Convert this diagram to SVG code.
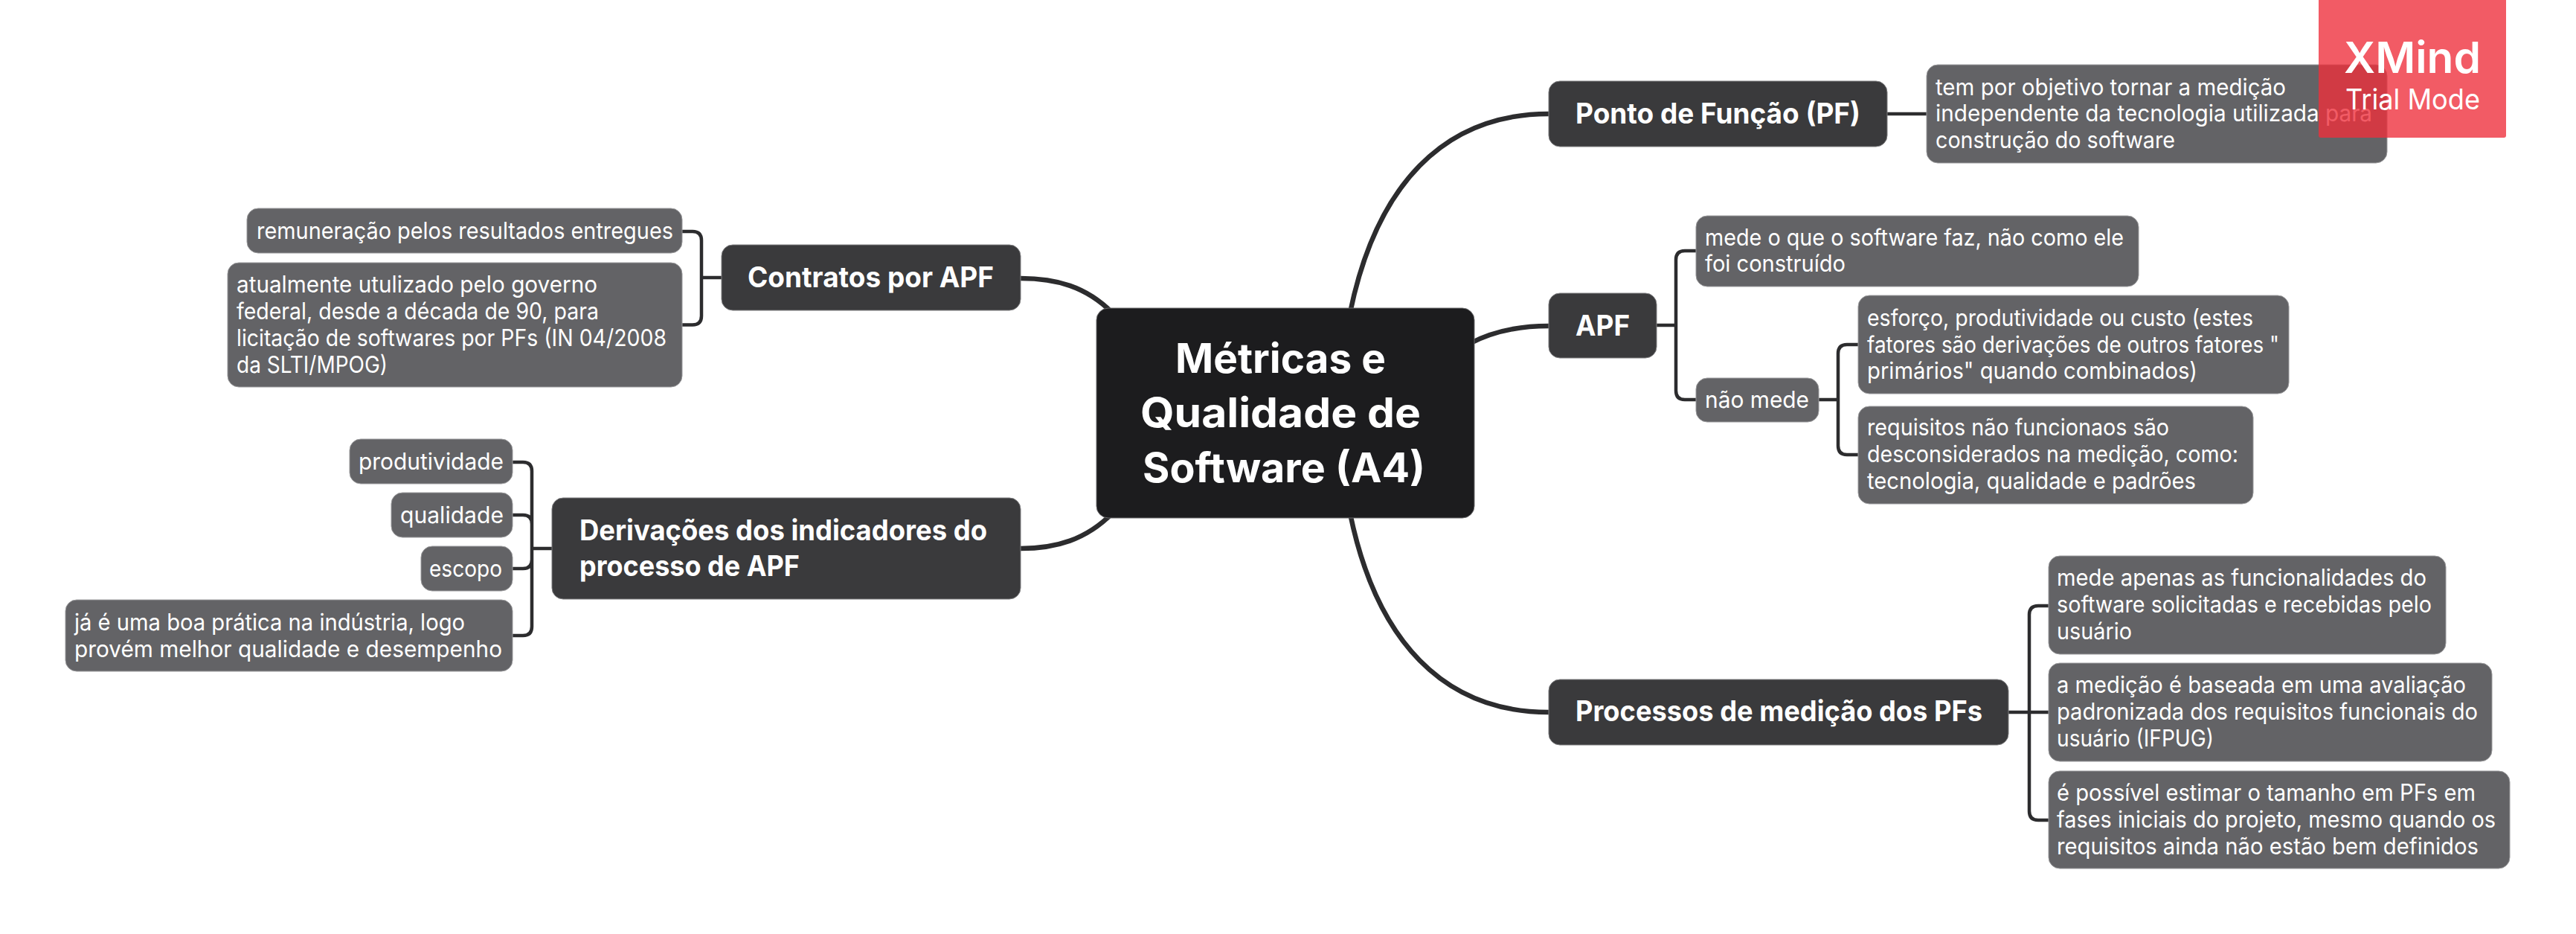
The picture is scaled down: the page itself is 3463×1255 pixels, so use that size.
<svg xmlns="http://www.w3.org/2000/svg" width="3463" height="1255" viewBox="0 0 3463 1255">
<style>
text{font-family:"Inter","Noto Sans","Liberation Sans",sans-serif;fill:#fff;}
.s{font-size:31px;font-weight:400;}
.t{font-size:38px;font-weight:700;}
.m{font-size:55px;font-weight:700;}
.rs{fill:#636366;stroke:#9a9a9c;stroke-width:1;}
.rt{fill:#3a3a3c;stroke:#7d7d7f;stroke-width:1;}
.rm{fill:#1c1c1e;stroke:#6a6a6c;stroke-width:1;}
.c1{fill:none;stroke:#2c2c2e;stroke-width:6.500;}
.c2{fill:none;stroke:#2c2c2e;stroke-width:4.500;}
</style>
<rect width="3463" height="1255" fill="#fff"/>
<g id="connectors">
<path class="c1" d="M1815,420C1850,250 1940,153 2082,153"/>
<path class="c1" d="M1815,690C1850,860 1940,957 2082,957"/>
<path class="c1" d="M1975,462Q2020,438 2082,438"/>
<path class="c1" d="M1372,374C1420,374 1460,385 1495,420"/>
<path class="c1" d="M1372,737C1420,737 1460,725 1495,690"/>
<path class="c2" d="M2537,153H2590"/>
<path class="c2" d="M2227,437H2253M2280,337H2265Q2253,337 2253,349V525Q2253,537 2265,537H2280"/>
<path class="c2" d="M2445,537H2471M2498,463H2483Q2471,463 2471,475V599Q2471,611 2483,611H2498"/>
<path class="c2" d="M2700,957H2754M2754,814H2740Q2728,814 2728,826V1090Q2728,1102 2740,1102H2754"/>
<path class="c2" d="M970,373H943M917,311H931Q943,311 943,323V424.500Q943,436.500 931,436.500H917"/>
<path class="c2" d="M742,737H715M689,621H703Q715,621 715,633V842Q715,854 703,854H689M689,692H703Q715,692 715,704M689,764H703Q715,764 715,752"/>
</g>
<g id="center"><rect class="rm" x="1474" y="414" width="508" height="282" rx="16"/>
<text class="m" x="1580" y="501" textLength="283" lengthAdjust="spacingAndGlyphs">Métricas e</text>
<text class="m" x="1533" y="574" textLength="377" lengthAdjust="spacingAndGlyphs">Qualidade de</text>
<text class="m" x="1536" y="648" textLength="380" lengthAdjust="spacingAndGlyphs">Software (A4)</text></g>
<g id="pf"><rect class="rt" x="2082" y="109" width="455" height="88" rx="15"/>
<text class="t" x="2118" y="166" textLength="383" lengthAdjust="spacingAndGlyphs">Ponto de Função (PF)</text></g>
<g id="pf-desc"><rect class="rs" x="2590" y="87" width="619" height="132" rx="15"/>
<text class="s" x="2602" y="128" textLength="471" lengthAdjust="spacingAndGlyphs">tem por objetivo tornar a medição</text>
<text class="s" x="2602" y="163" textLength="587" lengthAdjust="spacingAndGlyphs">independente da tecnologia utilizada para</text>
<text class="s" x="2602" y="199" textLength="322" lengthAdjust="spacingAndGlyphs">construção do software</text></g>
<g id="apf"><rect class="rt" x="2082" y="394" width="145" height="87" rx="15"/>
<text class="t" x="2118" y="451" textLength="73" lengthAdjust="spacingAndGlyphs">APF</text></g>
<g id="apf-mede"><rect class="rs" x="2280" y="290" width="595" height="95" rx="15"/>
<text class="s" x="2292" y="330" textLength="563" lengthAdjust="spacingAndGlyphs">mede o que o software faz, não como ele</text>
<text class="s" x="2292" y="365" textLength="189" lengthAdjust="spacingAndGlyphs">foi construído</text></g>
<g id="nao-mede"><rect class="rs" x="2280" y="508" width="165" height="59" rx="15"/>
<text class="s" x="2292" y="548" textLength="140" lengthAdjust="spacingAndGlyphs">não mede</text></g>
<g id="esforco"><rect class="rs" x="2498" y="397" width="579" height="132" rx="15"/>
<text class="s" x="2510" y="438" textLength="519" lengthAdjust="spacingAndGlyphs">esforço, produtividade ou custo (estes</text>
<text class="s" x="2510" y="474" textLength="554" lengthAdjust="spacingAndGlyphs">fatores são derivações de outros fatores "</text>
<text class="s" x="2510" y="509" textLength="444" lengthAdjust="spacingAndGlyphs">primários" quando combinados)</text></g>
<g id="requisitos"><rect class="rs" x="2498" y="546" width="531" height="131" rx="15"/>
<text class="s" x="2510" y="585" textLength="406" lengthAdjust="spacingAndGlyphs">requisitos não funcionaos são</text>
<text class="s" x="2510" y="621" textLength="499" lengthAdjust="spacingAndGlyphs">desconsiderados na medição, como:</text>
<text class="s" x="2510" y="657" textLength="442" lengthAdjust="spacingAndGlyphs">tecnologia, qualidade e padrões</text></g>
<g id="processos"><rect class="rt" x="2082" y="913" width="618" height="88" rx="15"/>
<text class="t" x="2118" y="969" textLength="547" lengthAdjust="spacingAndGlyphs">Processos de medição dos PFs</text></g>
<g id="proc-1"><rect class="rs" x="2754" y="747" width="534" height="132" rx="15"/>
<text class="s" x="2765" y="787" textLength="497" lengthAdjust="spacingAndGlyphs">mede apenas as funcionalidades do</text>
<text class="s" x="2765" y="823" textLength="504" lengthAdjust="spacingAndGlyphs">software solicitadas e recebidas pelo</text>
<text class="s" x="2765" y="859" textLength="101" lengthAdjust="spacingAndGlyphs">usuário</text></g>
<g id="proc-2"><rect class="rs" x="2754" y="891" width="596" height="132" rx="15"/>
<text class="s" x="2765" y="931" textLength="550" lengthAdjust="spacingAndGlyphs">a medição é baseada em uma avaliação</text>
<text class="s" x="2765" y="967" textLength="566" lengthAdjust="spacingAndGlyphs">padronizada dos requisitos funcionais do</text>
<text class="s" x="2765" y="1003" textLength="211" lengthAdjust="spacingAndGlyphs">usuário (IFPUG)</text></g>
<g id="proc-3"><rect class="rs" x="2754" y="1036" width="620" height="131" rx="15"/>
<text class="s" x="2765" y="1076" textLength="563" lengthAdjust="spacingAndGlyphs">é possível estimar o tamanho em PFs em</text>
<text class="s" x="2765" y="1112" textLength="590" lengthAdjust="spacingAndGlyphs">fases iniciais do projeto, mesmo quando os</text>
<text class="s" x="2765" y="1148" textLength="567" lengthAdjust="spacingAndGlyphs">requisitos ainda não estão bem definidos</text></g>
<g id="contratos"><rect class="rt" x="970" y="329" width="402" height="88" rx="15"/>
<text class="t" x="1005" y="386" textLength="331" lengthAdjust="spacingAndGlyphs">Contratos por APF</text></g>
<g id="contr-1"><rect class="rs" x="332" y="280" width="585" height="60" rx="15"/>
<text class="s" x="345" y="321" textLength="560" lengthAdjust="spacingAndGlyphs">remuneração pelos resultados entregues</text></g>
<g id="contr-2"><rect class="rs" x="306" y="353" width="611" height="167" rx="15"/>
<text class="s" x="318" y="393" textLength="485" lengthAdjust="spacingAndGlyphs">atualmente utulizado pelo governo</text>
<text class="s" x="318" y="429" textLength="487" lengthAdjust="spacingAndGlyphs">federal, desde a década de 90, para</text>
<text class="s" x="318" y="465" textLength="578" lengthAdjust="spacingAndGlyphs">licitação de softwares por PFs (IN 04/2008</text>
<text class="s" x="318" y="501" textLength="203" lengthAdjust="spacingAndGlyphs">da SLTI/MPOG)</text></g>
<g id="derivacoes"><rect class="rt" x="742" y="669" width="630" height="136" rx="15"/>
<text class="t" x="779" y="726" textLength="548" lengthAdjust="spacingAndGlyphs">Derivações dos indicadores do</text>
<text class="t" x="779" y="774" textLength="296" lengthAdjust="spacingAndGlyphs">processo de APF</text></g>
<g id="der-1"><rect class="rs" x="470" y="590" width="219" height="60" rx="15"/>
<text class="s" x="482" y="631" textLength="195" lengthAdjust="spacingAndGlyphs">produtividade</text></g>
<g id="der-2"><rect class="rs" x="526" y="662" width="163" height="60" rx="15"/>
<text class="s" x="538" y="703" textLength="139" lengthAdjust="spacingAndGlyphs">qualidade</text></g>
<g id="der-3"><rect class="rs" x="566" y="734" width="123" height="60" rx="15"/>
<text class="s" x="577" y="775" textLength="98" lengthAdjust="spacingAndGlyphs">escopo</text></g>
<g id="der-4"><rect class="rs" x="88" y="806" width="601" height="96" rx="15"/>
<text class="s" x="100" y="847" textLength="525" lengthAdjust="spacingAndGlyphs">já é uma boa prática na indústria, logo</text>
<text class="s" x="100" y="883" textLength="575" lengthAdjust="spacingAndGlyphs">provém melhor qualidade e desempenho</text></g>
<g id="watermark"><rect x="3117" y="-6" width="252" height="191" rx="3" fill="#ee2f3b" fill-opacity="0.79"/>
<text x="3151" y="98" font-size="58" font-weight="600" textLength="184" lengthAdjust="spacingAndGlyphs">XMind</text>
<text x="3153" y="147" font-size="38" font-weight="400" textLength="181" lengthAdjust="spacingAndGlyphs">Trial Mode</text></g>
</svg>
